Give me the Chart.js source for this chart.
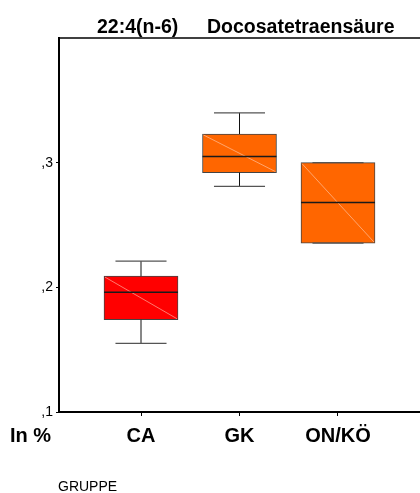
<!DOCTYPE html>
<html>
<head>
<meta charset="utf-8">
<script src="https://cdn.jsdelivr.net/npm/chart.js@4.4.0/dist/chart.umd.min.js"></script>
<style>
  html, body { margin: 0; padding: 0; background: #fff; }
  #wrap { width: 420px; height: 493px; position: relative; }
</style>
</head>
<body>
<div id="wrap"><canvas id="c" width="420" height="493"></canvas></div>
<script>
// ---- data ----
const categories = ['CA', 'GK', 'ON/KÖ'];
const whiskerLow  = [0.155, 0.281, 0.2355];
const quartile1   = [0.174, 0.292, 0.2355];
const medians     = [0.196, 0.305, 0.268];
const quartile3   = [0.209, 0.323, 0.300];
const whiskerHigh = [0.221, 0.340, 0.300];
const boxColors   = ['#FF0000', '#FF6600', '#FF6600'];
const yTickValues = [0.1, 0.2, 0.3];
const titleLeft   = '22:4(n-6)';
const titleRight  = 'Docosatetraensäure';
const yAxisName   = 'In %';
const xAxisName   = 'GRUPPE';

const FONT = "Arial, 'Liberation Sans', sans-serif";

const boxPlugin = {
  id: 'boxExtras',
  afterDatasetsDraw(chart) {
    const ctx = chart.ctx;
    const xs = chart.scales.x, ys = chart.scales.y;
    const meta = chart.getDatasetMeta(0);
    ctx.save();
    categories.forEach((c, i) => {
      const bar = meta.data[i];
      const cx = xs.getPixelForValue(i + 1);
      const half = bar.width / 2;
      const left = cx - half, right = cx + half;
      const top = ys.getPixelForValue(quartile3[i]);
      const bot = ys.getPixelForValue(quartile1[i]);
      // diagonal
      ctx.strokeStyle = 'rgba(255,215,195,0.7)';
      ctx.lineWidth = 0.8;
      ctx.beginPath(); ctx.moveTo(left + 1, top + 1); ctx.lineTo(right - 1, bot - 1); ctx.stroke();
      // median
      const my = ys.getPixelForValue(medians[i]);
      ctx.strokeStyle = '#1a1a1a';
      ctx.lineWidth = 1.5;
      ctx.beginPath(); ctx.moveTo(left, my); ctx.lineTo(right, my); ctx.stroke();
      // whiskers
      const hy = ys.getPixelForValue(whiskerHigh[i]);
      const ly = ys.getPixelForValue(whiskerLow[i]);
      const capHalf = half * 0.69;
      ctx.strokeStyle = '#111';
      ctx.lineWidth = 1;
      ctx.beginPath();
      ctx.moveTo(cx, top); ctx.lineTo(cx, hy);
      ctx.moveTo(cx, bot); ctx.lineTo(cx, ly);
      ctx.stroke();
      ctx.strokeStyle = '#555';
      ctx.lineWidth = 1.3;
      ctx.beginPath();
      ctx.moveTo(cx - capHalf, hy); ctx.lineTo(cx + capHalf, hy);
      ctx.moveTo(cx - capHalf, ly); ctx.lineTo(cx + capHalf, ly);
      ctx.stroke();
    });
    ctx.restore();
  },
  afterDraw(chart) {
    const ctx = chart.ctx;
    const a = chart.chartArea;
    ctx.save();
    // top frame line
    ctx.strokeStyle = '#000';
    ctx.lineWidth = 1.5;
    ctx.beginPath(); ctx.moveTo(a.left - 1, a.top); ctx.lineTo(a.right, a.top); ctx.stroke();
    // title
    ctx.fillStyle = '#000';
    ctx.font = 'bold 19.5px ' + FONT;
    ctx.textBaseline = 'alphabetic';
    ctx.textAlign = 'left';
    ctx.fillText(titleLeft, 97, 33);
    ctx.fillText(titleRight, 207, 33);
    // y axis name at lower left
    ctx.font = 'bold 20px ' + FONT;
    ctx.fillText(yAxisName, 10, 442);
    // x axis name
    ctx.font = '14px ' + FONT;
    ctx.fillText(xAxisName, 58, 491);
    ctx.restore();
  }
};

new Chart(document.getElementById('c'), {
  type: 'bar',
  data: {
    datasets: [{
      data: categories.map((c, i) => ({ x: i + 1, y: [quartile1[i], quartile3[i]] })),
      backgroundColor: boxColors,
      borderColor: '#444',
      borderWidth: 1,
      borderSkipped: false,
      barThickness: 74
    }]
  },
  options: {
    responsive: false,
    animation: false,
    devicePixelRatio: 1,
    layout: { padding: { top: 38, left: 0, right: 0, bottom: 0 } },
    plugins: { legend: { display: false }, tooltip: { enabled: false }, title: { display: false } },
    scales: {
      x: {
        type: 'linear',
        offset: false,
        min: 0.1675,
        max: 3.8325,
        afterBuildTicks(s) { s.ticks = categories.map((c, i) => ({ value: i + 1 })); },
        afterFit(s) { s.height = 81; },
        ticks: {
          autoSkip: false,
          maxRotation: 0,
          padding: 8,
          color: '#000',
          font: { family: FONT, size: 20, weight: 'bold' },
          callback: (v) => categories[Math.round(v) - 1] || ''
        },
        grid: { offset: false, drawOnChartArea: false, drawTicks: true, tickLength: 4, color: '#000' },
        border: { display: true, color: '#000', width: 2 }
      },
      y: {
        type: 'linear',
        min: 0.1,
        max: 0.4,
        afterBuildTicks(s) { s.ticks = yTickValues.map(v => ({ value: v })); },
        afterFit(s) { s.width = 59; },
        ticks: {
          padding: 3,
          color: '#000',
          font: { family: FONT, size: 14 },
          callback: (v) => ',' + Math.round(v * 10)
        },
        grid: { drawOnChartArea: false, drawTicks: true, tickLength: 3, color: '#000' },
        border: { display: true, color: '#000', width: 2 }
      }
    }
  },
  plugins: [boxPlugin]
});
</script>
</body>
</html>
